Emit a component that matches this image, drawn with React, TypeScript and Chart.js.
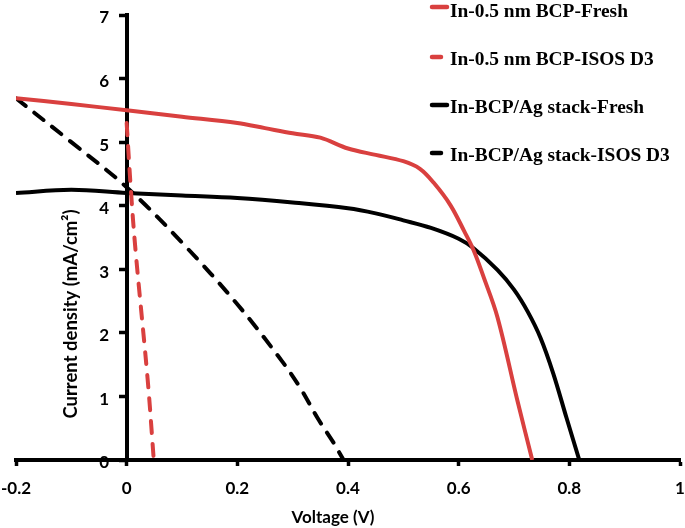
import React, { useEffect, useRef } from "react";
import { Chart, registerables } from "chart.js";

Chart.register(...registerables);

// ---- Data ----
const redFreshV = [-0.2, -0.1, 0, 0.1, 0.2, 0.25, 0.3, 0.35, 0.4, 0.45, 0.5, 0.53, 0.555, 0.585, 0.61, 0.627, 0.645, 0.67, 0.706, 0.733];
const redFreshJ = [5.69, 5.6, 5.5, 5.4, 5.3, 5.22, 5.14, 5.07, 4.9, 4.8, 4.7, 4.58, 4.36, 4.01, 3.6, 3.3, 2.88, 2.25, 0.94, 0];

const redIsosV = [0, 0.008, 0.016, 0.038, 0.049];
const redIsosJ = [5.3, 4.2, 3.3, 1.26, 0];

const blackFreshV = [-0.2, -0.1, 0, 0.1, 0.2, 0.3, 0.4, 0.45, 0.5, 0.55, 0.6, 0.627, 0.67, 0.7, 0.725, 0.748, 0.771, 0.795, 0.818];
const blackFreshJ = [4.2, 4.25, 4.2, 4.16, 4.12, 4.05, 3.96, 3.88, 3.77, 3.65, 3.48, 3.33, 2.99, 2.68, 2.33, 1.92, 1.36, 0.66, 0];

const blackIsosV = [-0.2, -0.1, 0, 0.1, 0.2, 0.282, 0.314, 0.345, 0.374, 0.392];
const blackIsosJ = [5.69, 5.0, 4.29, 3.42, 2.45, 1.54, 1.13, 0.66, 0.27, 0];

const seriesNames = [
  "In-0.5 nm BCP-Fresh",
  "In-0.5 nm BCP-ISOS D3",
  "In-BCP/Ag stack-Fresh",
  "In-BCP/Ag stack-ISOS D3",
];

const xTickValues = [-0.2, 0, 0.2, 0.4, 0.6, 0.8, 1];
const xTickLabels = ["-0.2", "0", "0.2", "0.4", "0.6", "0.8", "1"];
const yTickValues = [0, 1, 2, 3, 4, 5, 6, 7];
const yTickLabels = ["0", "1", "2", "3", "4", "5", "6", "7"];

const xTitle = "Voltage (V)";
const yTitle = "Current density (mA/cm\u00B2)";

const RED = "#d9403f";
const BLACK = "#000000";

const toPts = (xs: number[], ys: number[]) => xs.map((x, i) => ({ x, y: ys[i] }));

const tickFont = { family: "Lato", size: 17, weight: "bold" as const };

const overlayPlugin = {
  id: "overlay",
  beforeDraw(chart: any) {
    // y tick labels (left of the y axis drawn at x = 0), under the axis lines
    const ctx = chart.ctx as CanvasRenderingContext2D;
    const ys = chart.scales.y;
    ctx.save();
    ctx.fillStyle = "#000";
    ctx.font = "bold 17px Lato";
    ctx.textAlign = "right";
    ctx.textBaseline = "middle";
    yTickValues.forEach((v, i) => {
      ctx.fillText(yTickLabels[i], 109, ys.getPixelForValue(v) + 3);
    });
    ctx.restore();
  },
  afterDraw(chart: any) {
    const ctx = chart.ctx as CanvasRenderingContext2D;
    ctx.save();
    ctx.fillStyle = "#000";

    // axis titles
    ctx.font = "bold 17px Lato";
    ctx.textAlign = "center";
    ctx.textBaseline = "alphabetic";
    ctx.fillText(xTitle, 333, 523);
    ctx.save();
    ctx.translate(77, 314);
    ctx.rotate(-Math.PI / 2);
    ctx.font = "bold 18.5px Lato";
    ctx.fillText(yTitle, 0, 0);
    ctx.restore();

    // legend
    const baselines = [17, 65, 113, 161];
    const markers = [7, 57, 105, 153];
    chart.data.datasets.forEach((ds: any, i: number) => {
      ctx.strokeStyle = ds.borderColor;
      ctx.lineWidth = 4.5;
      ctx.lineCap = "round";
      ctx.setLineDash([]);
      ctx.beginPath();
      const dashed = Array.isArray(ds.borderDash) && ds.borderDash.length > 0;
      ctx.moveTo(432, markers[i]);
      ctx.lineTo(dashed ? 441 : 447, markers[i]);
      ctx.stroke();
      ctx.fillStyle = "#000";
      ctx.font = "bold 19.4px 'Liberation Serif'";
      ctx.textAlign = "left";
      ctx.textBaseline = "alphabetic";
      ctx.fillText(ds.label, 450, baselines[i]);
    });
    ctx.restore();
  },
};

export default function App() {
  const canvasRef = useRef<HTMLCanvasElement | null>(null);

  useEffect(() => {
    document.body.style.margin = "0";
    const canvas = canvasRef.current;
    if (!canvas) return;
    const common = {
      pointRadius: 0,
      borderWidth: 4,
      fill: false,
      tension: 0.35,
    };
    const chart = new Chart(canvas, {
      type: "line",
      data: {
        datasets: [
          { ...common, label: seriesNames[0], data: toPts(redFreshV, redFreshJ), borderColor: RED, backgroundColor: RED },
          { ...common, label: seriesNames[1], data: toPts(redIsosV, redIsosJ), borderColor: RED, backgroundColor: RED, borderDash: [12, 11], borderCapStyle: "round" },
          { ...common, label: seriesNames[2], data: toPts(blackFreshV, blackFreshJ), borderColor: BLACK, backgroundColor: BLACK },
          { ...common, label: seriesNames[3], data: toPts(blackIsosV, blackIsosJ), borderColor: BLACK, backgroundColor: BLACK, borderDash: [12, 11], borderCapStyle: "round" },
        ],
      },
      options: {
        responsive: false,
        animation: false,
        layout: { padding: { top: 15, left: 16, right: 5, bottom: 0 } },
        plugins: {
          legend: { display: false },
          tooltip: { enabled: false },
        },
        scales: {
          x: {
            type: "linear",
            position: "bottom",
            min: -0.2,
            max: 1,
            afterBuildTicks: (scale: any) => {
              scale.ticks = xTickValues.map((v) => ({ value: v }));
            },
            afterFit: (scale: any) => {
              scale.height = 68;
              scale.paddingLeft = 0;
              scale.paddingRight = 0;
            },
            ticks: {
              color: "#000",
              font: tickFont,
              padding: 12,
              maxRotation: 0,
              autoSkip: false,
              callback: (v: any) => {
                const idx = xTickValues.findIndex((t) => Math.abs(t - Number(v)) < 1e-9);
                return idx >= 0 ? xTickLabels[idx] : "";
              },
            },
            grid: { drawOnChartArea: false, drawTicks: true, tickLength: 6, tickWidth: 3.5, color: "#000" },
            border: { display: true, color: "#000", width: 4 },
          },
          y: {
            type: "linear",
            position: { x: 0 } as any,
            min: 0,
            max: 7,
            afterBuildTicks: (scale: any) => {
              scale.ticks = yTickValues.map((v) => ({ value: v }));
            },
            afterFit: (scale: any) => {
              scale.paddingTop = 0;
              scale.paddingBottom = 0;
            },
            ticks: {
              display: false,
              stepSize: 1,
            },
            grid: { drawOnChartArea: false, drawTicks: true, tickLength: 6, tickWidth: 3.5, color: "#000" },
            border: { display: true, color: "#000", width: 4 },
          },
        },
      },
      plugins: [overlayPlugin],
    });
    return () => chart.destroy();
  }, []);

  return (
    <div style={{ width: 685, height: 528, background: "#fff" }}>
      <canvas ref={canvasRef} width={685} height={528} style={{ display: "block" }} />
    </div>
  );
}
